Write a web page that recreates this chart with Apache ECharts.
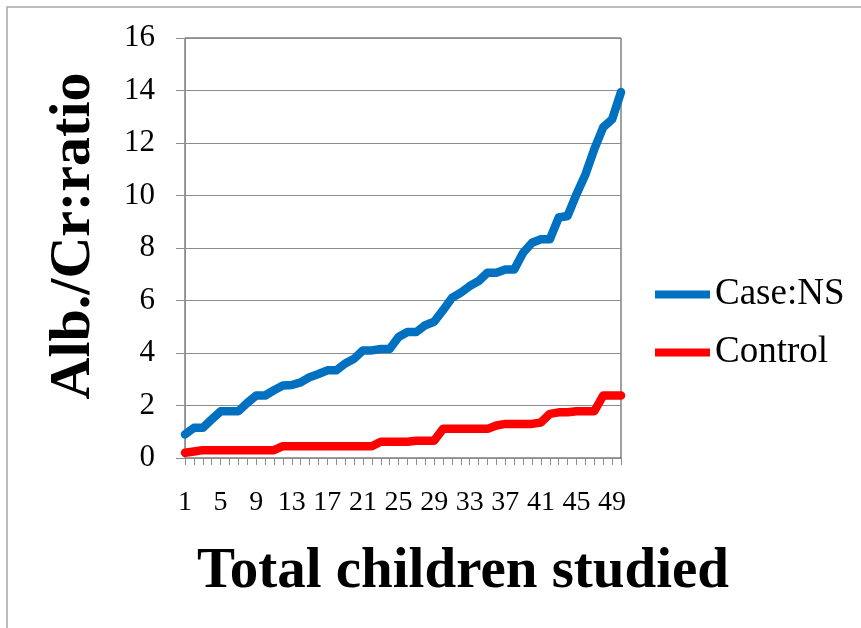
<!DOCTYPE html>
<html>
<head>
<meta charset="utf-8">
<title>Alb./Cr ratio</title>
<script src="https://cdn.jsdelivr.net/npm/echarts@6/dist/echarts.min.js"></script>
<style>
	html, body { margin: 0; padding: 0; background: #fff; }
	#container { width: 861px; height: 628px; }
</style>
</head>
<body>
<div id="container"></div>
<script>
// children 1..50
var categories = [];
for (var i = 1; i <= 50; i++) {
	categories.push(String(i));
}

var caseNS = [
	0.9, 1.15, 1.15, 1.47, 1.78, 1.78, 1.78, 2.1, 2.38, 2.38,
	2.58, 2.76, 2.78, 2.88, 3.08, 3.2, 3.34, 3.34, 3.6, 3.78,
	4.1, 4.1, 4.15, 4.15, 4.61, 4.8, 4.8, 5.06, 5.19, 5.63,
	6.1, 6.3, 6.55, 6.74, 7.06, 7.06, 7.18, 7.18, 7.82, 8.2,
	8.33, 8.33, 9.16, 9.22, 10.05, 10.8, 11.77, 12.6, 12.9, 13.94
];

var control = [
	0.2, 0.25, 0.3, 0.3, 0.3, 0.3, 0.3, 0.3, 0.3, 0.3,
	0.3, 0.45, 0.45, 0.45, 0.45, 0.45, 0.45, 0.45, 0.45, 0.45,
	0.45, 0.45, 0.62, 0.62, 0.62, 0.62, 0.66, 0.66, 0.66, 1.11,
	1.11, 1.11, 1.11, 1.11, 1.11, 1.24, 1.3, 1.3, 1.3, 1.3,
	1.35, 1.68, 1.74, 1.74, 1.78, 1.78, 1.78, 2.38, 2.38, 2.38
];

var seriesNames = ['Case:NS', 'Control'];
var yTicks = { min: 0, max: 16, interval: 2 };

var serif = 'Liberation Serif';

var myChart = echarts.init(document.getElementById('container'));
var option = {
	animation: false,
	backgroundColor: '#fff',
	grid: {
		left: 185,
		right: 240,
		top: 38,
		bottom: 170,
		show: true,
		borderColor: '#404040',
		borderWidth: 1
	},
	legend: {
		orient: 'vertical',
		left: 650,
		top: 271,
		itemWidth: 55,
		itemHeight: 8,
		itemGap: 21,
		icon: 'rect',
		data: seriesNames,
		textStyle: { fontFamily: serif, fontSize: 37, color: '#000' }
	},
	xAxis: {
		type: 'category',
		data: categories,
		boundaryGap: false,
		axisLine: { lineStyle: { color: '#8c8c8c', width: 1 } },
		axisTick: { interval: 0, length: 7, lineStyle: { color: '#8c8c8c' } },
		axisLabel: {
			interval: 3,
			margin: 31,
			fontFamily: serif,
			fontSize: 28,
			color: '#000'
		},
		splitLine: { show: false }
	},
	yAxis: {
		type: 'value',
		min: yTicks.min,
		max: yTicks.max,
		interval: yTicks.interval,
		name: 'Alb./Cr:ratio',
		nameLocation: 'middle',
		nameGap: 82,
		nameTextStyle: {
			fontFamily: serif,
			fontSize: 58,
			fontWeight: 'bold',
			color: '#000',
			padding: [0, 0, 0, 24]
		},
		axisLine: { show: true, lineStyle: { color: '#8c8c8c', width: 1 } },
		axisTick: { show: true, length: 9, lineStyle: { color: '#8c8c8c' } },
		axisLabel: {
			margin: 30,
			fontFamily: serif,
			fontSize: 31,
			color: '#000'
		},
		splitLine: { lineStyle: { color: '#8c8c8c', width: 1 } }
	},
	graphic: [
		{
			// outer frame, only top and left edges visible
			type: 'rect',
			shape: { x: 7, y: 7, width: 1000, height: 1000 },
			style: { fill: 'none', stroke: '#a6a6a6', lineWidth: 1.5 },
			silent: true
		},
		{
			type: 'text',
			x: 463,
			y: 572,
			style: {
				text: 'Total children studied',
				fontFamily: serif,
				fontSize: 57,
				fontWeight: 'bold',
				fill: '#000',
				align: 'center',
				verticalAlign: 'middle'
			}
		}
	],
	series: [
		{
			name: seriesNames[0],
			type: 'line',
			data: caseNS,
			showSymbol: false,
			symbol: 'none',
			color: '#0070c0',
			lineStyle: { width: 8.5, color: '#0070c0', cap: 'round', join: 'round' }
		},
		{
			name: seriesNames[1],
			type: 'line',
			data: control,
			showSymbol: false,
			symbol: 'none',
			color: '#ff0000',
			lineStyle: { width: 8.5, color: '#ff0000', cap: 'round', join: 'round' }
		}
	]
};
myChart.setOption(option);
</script>
</body>
</html>
